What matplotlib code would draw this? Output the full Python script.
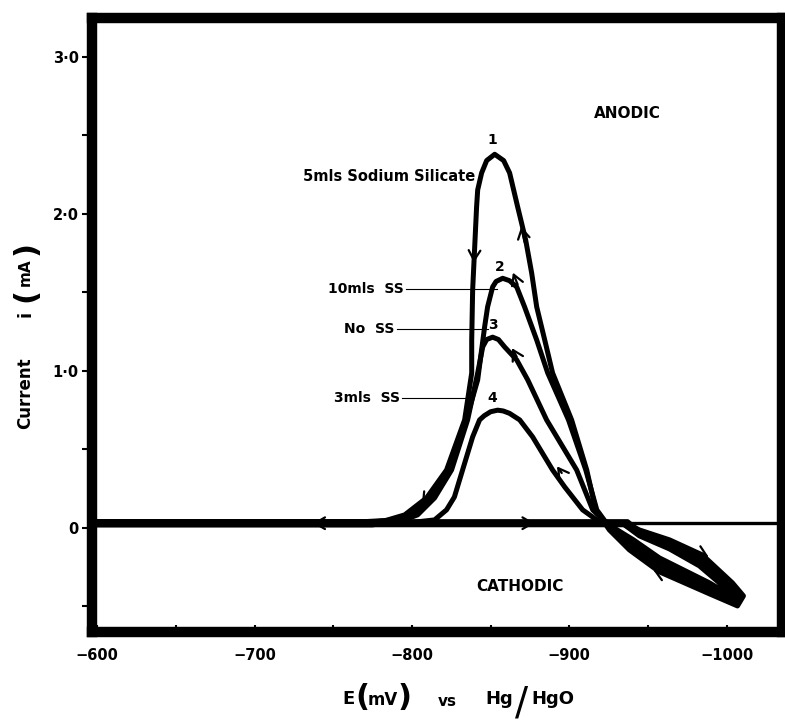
import matplotlib
matplotlib.use("Agg")
import matplotlib.pyplot as plt

plt.rcParams['font.family'] = ['DejaVu Sans']
plt.rcParams['font.weight'] = 'bold'

# ---- data: E in mV, i in mA ----
# each curve is traced as one full sweep, starting at -600 mV

c1_E = [-600, -936, -944.6, -963.7, -984.6, -1003.7, -1010.7, -1006.9, -989.1, -957.3, -938.2, -925.5,
        -916.8, -911.1, -901.5, -889.4, -884.4, -879.3, -876.1, -872.3, -867.2, -862.1,
        -858.3, -852.6, -847.5, -844.3, -841.8, -841.1, -839.9, -838.6, -838, -838,
        -833.5, -822, -809.3, -795.4, -782.6, -765, -600]
c1_i = [0.03, 0.03, -0.013, -0.076, -0.172, -0.35, -0.433, -0.497, -0.42, -0.28, -0.14, -0.013,
        0.115, 0.369, 0.688, 0.987, 1.197, 1.408, 1.624, 1.834, 2.045, 2.261,
        2.34, 2.38, 2.34, 2.261, 2.153, 2.045, 1.79, 1.516, 1.197, 0.987,
        0.688, 0.369, 0.191, 0.083, 0.045, 0.03, 0.03]

c2_E = [-600, -937, -944.6, -963.7, -983.7, -1002.2, -1009.8, -1006.2, -989.1, -957.3, -938.2, -926.8,
        -917.5, -910.5, -899.5, -886.3, -879.3, -871.6, -866.6, -862, -857.7, -853.5,
        -851.3, -848.1, -846.2, -843.7, -841.8, -834.5, -824, -812.5, -799.8, -788, -770, -600]
c2_i = [0.04, 0.04, -0.022, -0.092, -0.19, -0.36, -0.44, -0.478, -0.395, -0.248, -0.115, -0.013,
        0.115, 0.369, 0.688, 0.987, 1.197, 1.408, 1.535, 1.575, 1.59, 1.57,
        1.535, 1.408, 1.28, 1.089, 0.943, 0.688, 0.369, 0.191, 0.083, 0.05, 0.04, 0.04]

c3_E = [-600, -935, -944.6, -963.7, -982.7, -1000.5, -1008.8, -1005.6, -989.1, -957.3, -939.5, -928.1,
        -914.9, -904.7, -885.6, -873.6, -866.6, -858.9, -855, -851.3, -847.5, -845,
        -841.8, -835.4, -825.2, -814.4, -803.6, -792.2, -775, -600]
c3_i = [0.02, 0.02, -0.032, -0.108, -0.21, -0.37, -0.446, -0.459, -0.369, -0.217, -0.096, -0.013,
        0.115, 0.369, 0.688, 0.943, 1.07, 1.153, 1.20, 1.215, 1.20, 1.153,
        0.987, 0.688, 0.369, 0.191, 0.083, 0.04, 0.02, 0.02]

c4_E = [-600, -933, -944.6, -963.7, -982.7, -999.9, -1007.5, -1005, -989.1, -957.3, -940.8, -929.4,
        -917.4, -908.5, -897.1, -889.4, -876.7, -868.5, -862, -858, -854.5, -850,
        -846, -843, -838.6, -832.2, -827, -822, -814.4, -800, -600]
c4_i = [0.035, 0.035, -0.051, -0.134, -0.242, -0.389, -0.459, -0.446, -0.35, -0.191, -0.076, -0.006,
        0.051, 0.115, 0.261, 0.369, 0.58, 0.688, 0.73, 0.745, 0.75, 0.74,
        0.715, 0.688, 0.58, 0.369, 0.197, 0.115, 0.051, 0.035, 0.035]

curves_E = [c1_E, c2_E, c3_E, c4_E]
curves_i = [c1_i, c2_i, c3_i, c4_i]
curve_numbers = ['1', '2', '3', '4']
number_E = [-851.3, -855.7, -851.3, -851.3]
number_i = [2.47, 1.66, 1.29, 0.83]

zero_line = 0.03

# sweep direction arrows: (E, i, dE, di)
arrows = [(-741, 0.03, 4, 0), (-874, 0.03, -4, 0),
          (-839.9, 1.79, 0.5, -0.1), (-871.6, 1.82, 2.1, 0.1),
          (-867.2, 1.55, 3, 0.076), (-866.6, 1.09, 3, 0.055),
          (-895.2, 0.35, 3, 0.042), (-809.3, 0.19, 3, -0.042),
          (-984.6, -0.165, -4, -0.02), (-957.3, -0.285, 4, 0.018)]

# labelled curves with leader lines
series_names = ['10mls  SS', 'No  SS', '3mls  SS']
name_E = [-794.7, -789.0, -792.2]
name_i = [1.52, 1.27, 0.83]
leader_end_E = [-853.8, -848.1, -838.0]

x_ticks = [-600, -700, -800, -900, -1000]
x_labels = ['\u2212600', '\u2212700', '\u2212800', '\u2212900', '\u22121000']
x_minor = [-650, -750, -850, -950]
y_ticks = [0, 1, 2, 3]
y_labels = ['0', '1\u00b70', '2\u00b70', '3\u00b70']
y_minor = [-0.5, 0.5, 1.5, 2.5]

fig = plt.figure(figsize=(7.85, 7.22), dpi=100)
ax = fig.add_axes([0.1178, 0.124, 0.878, 0.8504])
ax.set_xlim(-597, -1035)
ax.set_ylim(-0.666, 3.245)

ax.axhline(zero_line, color='black', lw=2.4, zorder=2)
for E, cur in zip(curves_E, curves_i):
    ax.plot(E, cur, color='black', lw=3.6, solid_joinstyle='round',
            solid_capstyle='round', zorder=3)

for E, cur, dE, di in arrows:
    ax.annotate('', xy=(E + dE, cur + di), xytext=(E, cur),
                arrowprops=dict(arrowstyle='->,head_length=0.6,head_width=0.35',
                                lw=1.6, color='black', shrinkA=0, shrinkB=0,
                                mutation_scale=12), zorder=4)

for s, E, cur in zip(curve_numbers, number_E, number_i):
    ax.text(E, cur, s, fontsize=10, fontweight='bold', ha='center', va='center')

for s, E, cur, E2 in zip(series_names, name_E, name_i, leader_end_E):
    ax.text(E, cur, s, fontsize=10, fontweight='bold', ha='right', va='center')
    ax.plot([E - 1.5, E2], [cur, cur], color='black', lw=0.8, zorder=2)

ax.text(-840.5, 2.24, '5mls Sodium Silicate', fontsize=10.5, fontweight='bold',
        ha='right', va='center')
ax.text(-937, 2.64, 'ANODIC', fontsize=11, fontweight='bold', ha='center', va='center')
ax.text(-868.5, -0.37, 'CATHODIC', fontsize=11, fontweight='bold', ha='center', va='center')

# frame and ticks
for sp in ax.spines.values():
    sp.set_linewidth(7.5)
ax.set_xticks(x_ticks)
ax.set_xticklabels(x_labels)
ax.set_xticks(x_minor, minor=True)
ax.set_yticks(y_ticks)
ax.set_yticklabels(y_labels)
ax.set_yticks(y_minor, minor=True)
ax.tick_params(axis='x', which='both', direction='in', length=5, width=1.5,
               pad=11, labelsize=10.5)
ax.tick_params(axis='y', which='both', direction='out', length=7, width=1.5,
               pad=3, labelsize=10.5)
for lab in ax.get_xticklabels() + ax.get_yticklabels():
    lab.set_fontweight('bold')

# axis titles built from pieces (big brackets)
W, H = 785.0, 722.0
def ftext(x, y, s, size, weight='bold', **kw):
    fig.text(x / W, 1 - y / H, s, fontsize=size, fontweight=weight,
             ha='center', va='center', **kw)

ftext(25, 393, 'Current', 12, rotation=90)
ftext(25, 314, 'i', 13, rotation=90)
ftext(26, 295, '(', 22, rotation=90)
ftext(25, 272, 'mA', 11, rotation=90)
ftext(26, 248, ')', 22, rotation=90)

ftext(348, 699, 'E', 13)
ftext(362, 698, '(', 22)
ftext(383, 700, 'mV', 12)
ftext(405, 698, ')', 22)
ftext(447, 701, 'vs', 11)
ftext(499, 699, 'Hg', 13)
ftext(522, 703, '/', 28, weight='normal')
ftext(553, 699, 'HgO', 13)

fig.savefig('out.png', dpi=100)
